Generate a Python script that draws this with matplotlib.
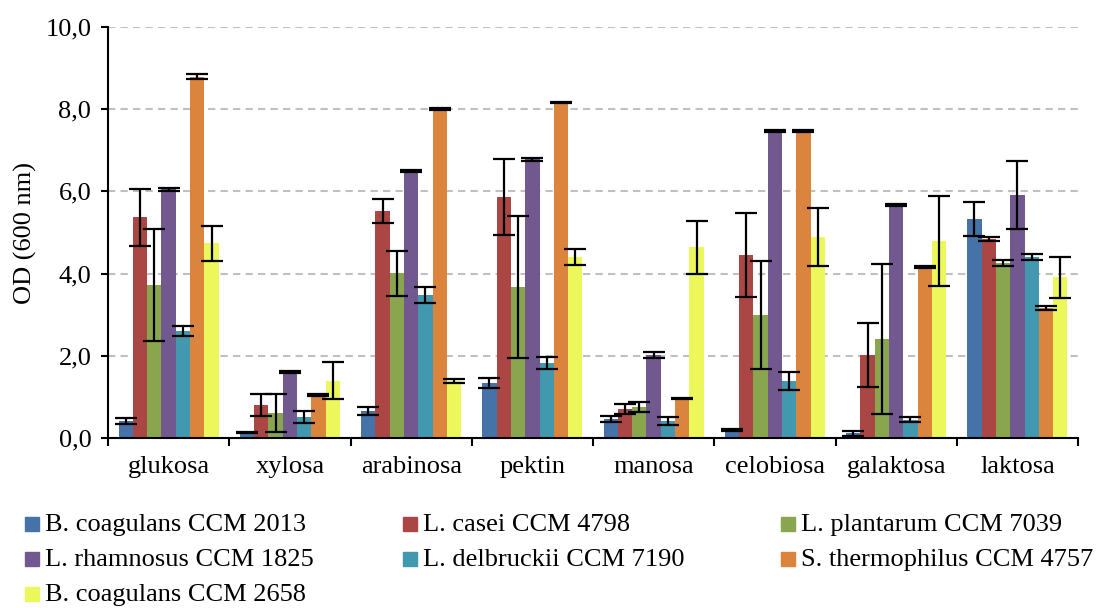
import matplotlib
matplotlib.use("Agg")
import matplotlib.pyplot as plt
import numpy as np
from matplotlib.patches import Rectangle
from matplotlib.ticker import FuncFormatter

categories = ["glukosa", "xylosa", "arabinosa", "pektin", "manosa", "celobiosa", "galaktosa", "laktosa"]
series_names = ["B. coagulans CCM 2013", "L. casei CCM 4798", "L. plantarum CCM 7039",
                "L. rhamnosus CCM 1825", "L. delbruckii CCM 7190", "S. thermophilus CCM 4757",
                "B. coagulans CCM 2658"]

b_coag_2013 = [0.41, 0.13, 0.66, 1.34, 0.46, 0.19, 0.12, 5.33]
l_casei = [5.37, 0.80, 5.52, 5.86, 0.71, 4.45, 2.02, 4.84]
l_plantarum = [3.72, 0.61, 4.01, 3.67, 0.75, 2.99, 2.41, 4.26]
l_rhamnosus = [6.05, 1.60, 6.49, 6.78, 2.02, 7.47, 5.67, 5.91]
l_delbruckii = [2.60, 0.51, 3.48, 1.82, 0.41, 1.39, 0.45, 4.40]
s_thermo = [8.79, 1.05, 8.00, 8.16, 0.96, 7.47, 4.16, 3.17]
b_coag_2658 = [4.74, 1.39, 1.39, 4.40, 4.64, 4.89, 4.79, 3.91]

err_b_coag_2013 = [0.07, 0.02, 0.09, 0.12, 0.08, 0.02, 0.06, 0.41]
err_l_casei = [0.70, 0.26, 0.29, 0.93, 0.12, 1.02, 0.77, 0.05]
err_l_plantarum = [1.36, 0.46, 0.55, 1.73, 0.12, 1.32, 1.83, 0.08]
err_l_rhamnosus = [0.03, 0.02, 0.03, 0.03, 0.07, 0.03, 0.03, 0.82]
err_l_delbruckii = [0.12, 0.14, 0.19, 0.15, 0.09, 0.21, 0.07, 0.07]
err_s_thermo = [0.06, 0.03, 0.02, 0.02, 0.02, 0.03, 0.03, 0.05]
err_b_coag_2658 = [0.43, 0.45, 0.05, 0.19, 0.65, 0.71, 1.10, 0.50]

values = [b_coag_2013, l_casei, l_plantarum, l_rhamnosus, l_delbruckii, s_thermo, b_coag_2658]
errors = [err_b_coag_2013, err_l_casei, err_l_plantarum, err_l_rhamnosus,
          err_l_delbruckii, err_s_thermo, err_b_coag_2658]
colors = ["#4572A7", "#AA4643", "#89A54E", "#71588F", "#4198AF", "#DB843D", "#EBF75A"]

plt.rcParams['font.family'] = ['Liberation Serif', 'DejaVu Serif']
FS = 19

W, H = 1097, 608
fig = plt.figure(figsize=(W / 100, H / 100), dpi=100)
ax = fig.add_axes([108 / W, 1 - 438 / H, (1078 - 108) / W, (438 - 27) / H])

n = len(values)
bw = 0.118
x = np.arange(len(categories)) + 0.5
for i, (vals, errs, c) in enumerate(zip(values, errors, colors)):
    pos = x + (i - (n - 1) / 2) * bw
    ax.bar(pos, vals, width=bw, color=c, zorder=2)
    ax.errorbar(pos, vals, yerr=errs, fmt='none', ecolor='black', elinewidth=1.6,
                capsize=8, capthick=1.6, zorder=3)

ax.set_xlim(0, len(categories))
ax.set_ylim(0, 10)
ax.set_yticks(np.arange(0, 10.1, 2))
ax.yaxis.set_major_formatter(FuncFormatter(lambda v, p: f"{v:.1f}".replace(".", ",")))
ax.set_xticks(np.arange(0, len(categories) + 1))
ax.set_xticklabels([])
ax.set_xticks(x, minor=True)
ax.set_xticklabels(categories, minor=True)
ax.tick_params(axis='x', which='major', length=6, width=1.5, direction='out')
ax.tick_params(axis='x', which='minor', length=0, pad=13, labelsize=FS)
ax.tick_params(axis='y', length=5, width=1.5, direction='out', labelsize=FS, pad=7)
ax.grid(axis='y', color='#C0C0C0', linestyle=(0, (3.5, 2.5)), linewidth=1.5, zorder=0)
ax.set_axisbelow(True)
for s in ['top', 'right']:
    ax.spines[s].set_visible(False)
ax.spines['left'].set_linewidth(1.5)
ax.spines['bottom'].set_linewidth(1.5)
ax.set_ylabel("OD (600 nm)", fontsize=FS, labelpad=6)

# legend (Excel-style equal column widths)
col_x = [25, 403, 781]
row_base = [531, 566, 601]
for k, (name, c) in enumerate(zip(series_names, colors)):
    r, cidx = divmod(k, 3)
    px, py = col_x[cidx], row_base[r]
    fig.add_artist(Rectangle((px / W, 1 - py / H), 14 / W, 14 / H,
                             transform=fig.transFigure, color=c))
    fig.text((px + 20) / W, 1 - py / H, name, fontsize=FS, va='baseline', ha='left')

fig.savefig("out.png", dpi=100)
